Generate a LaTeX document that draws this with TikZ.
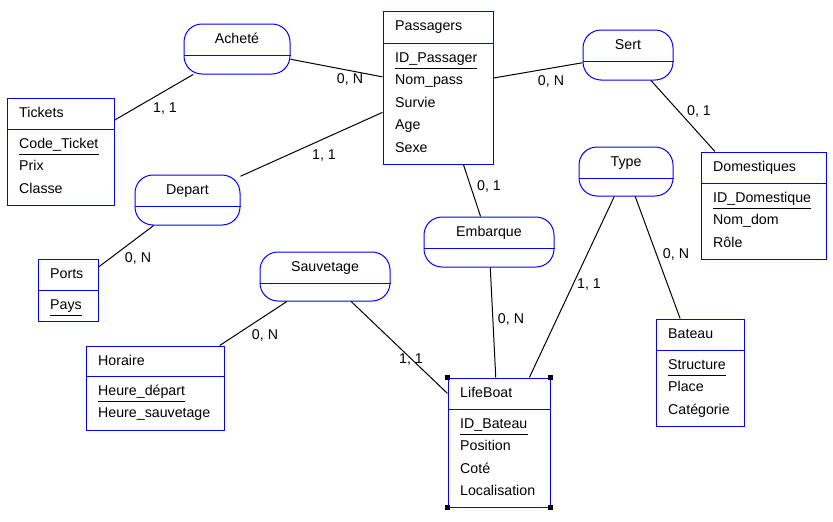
\documentclass[tikz,border=0pt]{standalone}
\usepackage{fontspec}
\setmainfont{Liberation Sans}
\definecolor{erblue}{RGB}{0,0,255}
\begin{document}
\begin{tikzpicture}[x=1pt,y=-1pt,
  font=\fontsize{14.2}{17}\selectfont,
  entity/.style={draw=erblue,line width=1pt,inner sep=0pt,fill=white},
  rel/.style={draw=erblue,line width=1pt,inner sep=0pt,rounded corners=18pt,fill=white},
  divider/.style={draw=erblue,line width=1pt},
  txt/.style={anchor=base west,inner sep=0pt},
  ctxt/.style={anchor=base,inner sep=0pt},
  card/.style={anchor=base,inner sep=0pt},
  conn/.style={draw=black,line width=1pt},
  uline/.style={draw=black,line width=1pt},
  handle/.style={fill=black}]
\useasboundingbox[fill=white] (0,0) rectangle (833,522);

% ---- relationships
\node[rel,minimum width=106pt,minimum height=50pt] (achete) at (237,49) {};
\node[rel,minimum width=105pt,minimum height=50pt] (depart) at (187.5,200) {};
\node[rel,minimum width=90pt,minimum height=50pt] (sert) at (628,55) {};
\node[rel,minimum width=94pt,minimum height=49pt] (type) at (626,171.5) {};
\node[rel,minimum width=130pt,minimum height=50pt] (embarque) at (489,242) {};
\node[rel,minimum width=130pt,minimum height=49pt] (sauvetage) at (325,276.5) {};

% ---- entities
\node[entity,minimum width=110pt,minimum height=153pt] (pass) at (438,87.5) {};
\node[entity,minimum width=107pt,minimum height=107pt] (tickets) at (60.5,151.5) {};
\node[entity,minimum width=60pt,minimum height=62pt] (ports) at (68,290) {};
\node[entity,minimum width=138pt,minimum height=84pt] (horaire) at (155,388) {};
\node[entity,minimum width=125pt,minimum height=107pt] (dom) at (763.5,205.5) {};
\node[entity,minimum width=102pt,minimum height=129pt] (lb) at (499,442.5) {};
\node[entity,minimum width=88pt,minimum height=107pt] (bateau) at (700,372.5) {};

% ---- connectors
\draw[conn] (achete) -- (tickets);
\draw[conn] (achete) -- (pass);
\draw[conn] (pass) -- (depart);
\draw[conn] (depart) -- (ports);
\draw[conn] (pass) -- (sert);
\draw[conn] (sert) -- (dom);
\draw[conn] (pass) -- (embarque);
\draw[conn] (embarque) -- (lb);
\draw[conn] (type) -- (lb);
\draw[conn] (type) -- (bateau);
\draw[conn] (sauvetage) -- (horaire);
\draw[conn] (sauvetage) -- (lb);

% ---- relationship dividers and labels
\draw[divider] (achete.west |- 0,55) -- (achete.east |- 0,55);
\draw[divider] (depart.west |- 0,206) -- (depart.east |- 0,206);
\draw[divider] (sert.west |- 0,61) -- (sert.east |- 0,61);
\draw[divider] (type.west |- 0,178) -- (type.east |- 0,178);
\draw[divider] (embarque.west |- 0,248) -- (embarque.east |- 0,248);
\draw[divider] (sauvetage.west |- 0,283) -- (sauvetage.east |- 0,283);
\node[ctxt] (lachete) at (237,43) {Acheté};
\node[ctxt] (ldepart) at (187.5,194) {Depart};
\node[ctxt] (lsert) at (628,49) {Sert};
\node[ctxt] (ltype) at (626,166) {Type};
\node[ctxt] (lembarque) at (489,236) {Embarque};
\node[ctxt] (lsauvetage) at (325,271) {Sauvetage};

% ---- Passagers
\draw[divider] (pass.west |- 0,43) -- (pass.east |- 0,43);
\node[txt] (tpass) at (395,30) {Passagers};
\node[txt] (apass1) at (395,62) {ID\_Passager};
\draw[uline] ([yshift=-6pt]apass1.base west) -- ([yshift=-6pt]apass1.base east);
\node[txt] (apass2) at (395,84.5) {Nom\_pass};
\node[txt] (apass3) at (395,107) {Survie};
\node[txt] (apass4) at (395,129.5) {Age};
\node[txt] (apass5) at (395,152) {Sexe};

% ---- Tickets
\draw[divider] (tickets.west |- 0,129) -- (tickets.east |- 0,129);
\node[txt] (ttick) at (19,117) {Tickets};
\node[txt] (atick1) at (19,148) {Code\_Ticket};
\draw[uline] ([yshift=-6pt]atick1.base west) -- ([yshift=-6pt]atick1.base east);
\node[txt] (atick2) at (19,170.5) {Prix};
\node[txt] (atick3) at (19,193) {Classe};

% ---- Ports
\draw[divider] (ports.west |- 0,290) -- (ports.east |- 0,290);
\node[txt] (tports) at (50,278) {Ports};
\node[txt] (aports1) at (50,309) {Pays};
\draw[uline] ([yshift=-6pt]aports1.base west) -- ([yshift=-6pt]aports1.base east);

% ---- Horaire
\draw[divider] (horaire.west |- 0,376) -- (horaire.east |- 0,376);
\node[txt] (thor) at (98,365) {Horaire};
\node[txt] (ahor1) at (98,395) {Heure\_départ};
\draw[uline] ([yshift=-6pt]ahor1.base west) -- ([yshift=-6pt]ahor1.base east);
\node[txt] (ahor2) at (98,417.5) {Heure\_sauvetage};

% ---- Domestiques
\draw[divider] (dom.west |- 0,183) -- (dom.east |- 0,183);
\node[txt] (tdom) at (713,171) {Domestiques};
\node[txt] (adom1) at (713,202) {ID\_Domestique};
\draw[uline] ([yshift=-6pt]adom1.base west) -- ([yshift=-6pt]adom1.base east);
\node[txt] (adom2) at (713,224.5) {Nom\_dom};
\node[txt] (adom3) at (713,247) {Rôle};

% ---- LifeBoat
\draw[divider] (lb.west |- 0,409) -- (lb.east |- 0,409);
\node[txt] (tlb) at (460,397) {LifeBoat};
\node[txt] (alb1) at (460,428) {ID\_Bateau};
\draw[uline] ([yshift=-6pt]alb1.base west) -- ([yshift=-6pt]alb1.base east);
\node[txt] (alb2) at (460,450.5) {Position};
\node[txt] (alb3) at (460,473) {Coté};
\node[txt] (alb4) at (460,495.5) {Localisation};
\foreach \c in {north west,north east,south west,south east}{
  \fill[handle] (lb.\c) +(-2.5,-2.5) rectangle +(2.5,2.5);
}

% ---- Bateau
\draw[divider] (bateau.west |- 0,350) -- (bateau.east |- 0,350);
\node[txt] (tbat) at (668,338) {Bateau};
\node[txt] (abat1) at (668,369) {Structure};
\draw[uline] ([yshift=-6pt]abat1.base west) -- ([yshift=-6pt]abat1.base east);
\node[txt] (abat2) at (668,391.5) {Place};
\node[txt] (abat3) at (668,414) {Catégorie};

% ---- cardinalities
\node[card] (c1) at (165,112) {1, 1};
\node[card] (c2) at (350,83) {0, N};
\node[card] (c3) at (324,159) {1, 1};
\node[card] (c4) at (138,262) {0, N};
\node[card] (c5) at (265,339) {0, N};
\node[card] (c6) at (411,363) {1, 1};
\node[card] (c7) at (551,85) {0, N};
\node[card] (c8) at (699,115) {0, 1};
\node[card] (c9) at (489,190) {0, 1};
\node[card] (c10) at (676,258) {0, N};
\node[card] (c11) at (511,323) {0, N};
\node[card] (c12) at (589,288) {1, 1};
\end{tikzpicture}
\end{document}
